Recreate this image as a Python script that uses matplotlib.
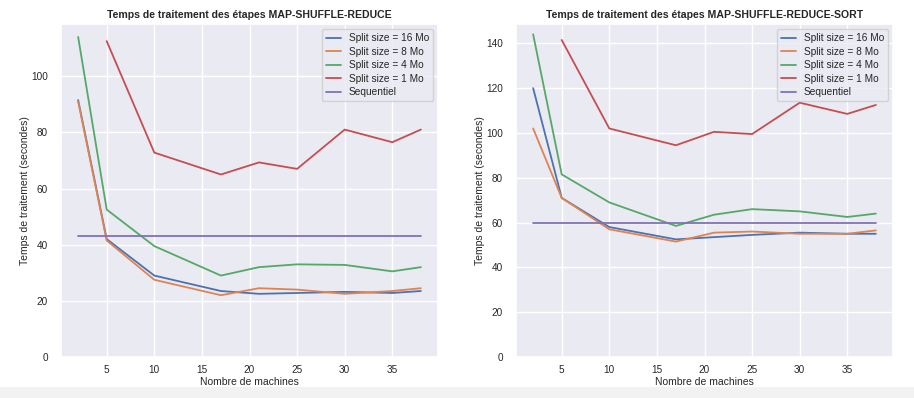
import matplotlib
matplotlib.use("Agg")
import matplotlib.pyplot as plt
import seaborn as sns
from matplotlib.patches import Rectangle

sns.set_theme(style="darkgrid")
plt.rcParams['font.family'] = ['Liberation Sans', 'DejaVu Sans']

machines = [2, 5, 10, 17, 21, 25, 30, 35, 38]
machines_1mo = [5, 10, 17, 21, 25, 30, 35, 38]

# MAP-SHUFFLE-REDUCE
msr_16 = [91.5, 42, 29, 23.5, 22.5, 22.8, 23.2, 22.8, 23.5]
msr_8 = [91, 41.5, 27.5, 22, 24.5, 24, 22.5, 23.5, 24.5]
msr_4 = [114, 52.5, 39.5, 29, 32, 33, 32.8, 30.5, 32]
msr_1 = [112.5, 72.8, 65, 69.3, 67, 81, 76.5, 81]
msr_seq = 43

# MAP-SHUFFLE-REDUCE-SORT
msrs_16 = [120, 71, 58, 52.5, 53.5, 54.5, 55.5, 55, 55]
msrs_8 = [102, 71, 57, 51.5, 55.5, 56, 55, 55, 56.5]
msrs_4 = [144, 81.5, 69, 58.5, 63.5, 66, 65, 62.5, 64]
msrs_1 = [141.5, 102, 94.5, 100.5, 99.5, 113.5, 108.5, 112.5]
msrs_seq = 60

labels = ["Split size = 16 Mo", "Split size = 8 Mo", "Split size = 4 Mo",
          "Split size = 1 Mo", "Sequentiel"]
titles = ["Temps de traitement des étapes MAP-SHUFFLE-REDUCE",
          "Temps de traitement des étapes MAP-SHUFFLE-REDUCE-SORT"]

fig = plt.figure(figsize=(9.14, 3.98), dpi=100)
fig.patches.append(Rectangle((0, 0), 1, 11 / 398, transform=fig.transFigure,
                             facecolor='#f2f2f2', edgecolor='none', zorder=-10))
ax1 = fig.add_axes([61 / 914, 1 - 357 / 398, 377 / 914, 333 / 398])
ax2 = fig.add_axes([516 / 914, 1 - 357 / 398, 377 / 914, 333 / 398])

pal = sns.color_palette()
datasets = [(ax1, msr_16, msr_8, msr_4, msr_1, msr_seq),
            (ax2, msrs_16, msrs_8, msrs_4, msrs_1, msrs_seq)]
for i, (ax, s16, s8, s4, s1, seq) in enumerate(datasets):
    lw = 1.3
    ax.plot(machines, s16, color=pal[0], lw=lw, label=labels[0])
    ax.plot(machines, s8, color=pal[1], lw=lw, label=labels[1])
    ax.plot(machines, s4, color=pal[2], lw=lw, label=labels[2])
    ax.plot(machines_1mo, s1, color=pal[3], lw=lw, label=labels[3])
    ax.plot(machines, [seq] * len(machines), color=pal[4], lw=lw, label=labels[4])
    ax.set_ylim(bottom=0)
    ax.set_title(titles[i], fontsize=7.6, fontweight='bold', pad=4)
    ax.set_xlabel("Nombre de machines", fontsize=7.5, labelpad=1)
    ax.set_ylabel("Temps de traitement (secondes)", fontsize=7.5, labelpad=0.5)
    ax.tick_params(axis='x', labelsize=7.2, pad=0)
    ax.tick_params(axis='y', labelsize=7.2, pad=3.5)
    ax.legend(loc='upper right', fontsize=7.3, handlelength=1.4,
              handletextpad=0.8, labelspacing=0.35)

fig.savefig("out.png", dpi=100)
